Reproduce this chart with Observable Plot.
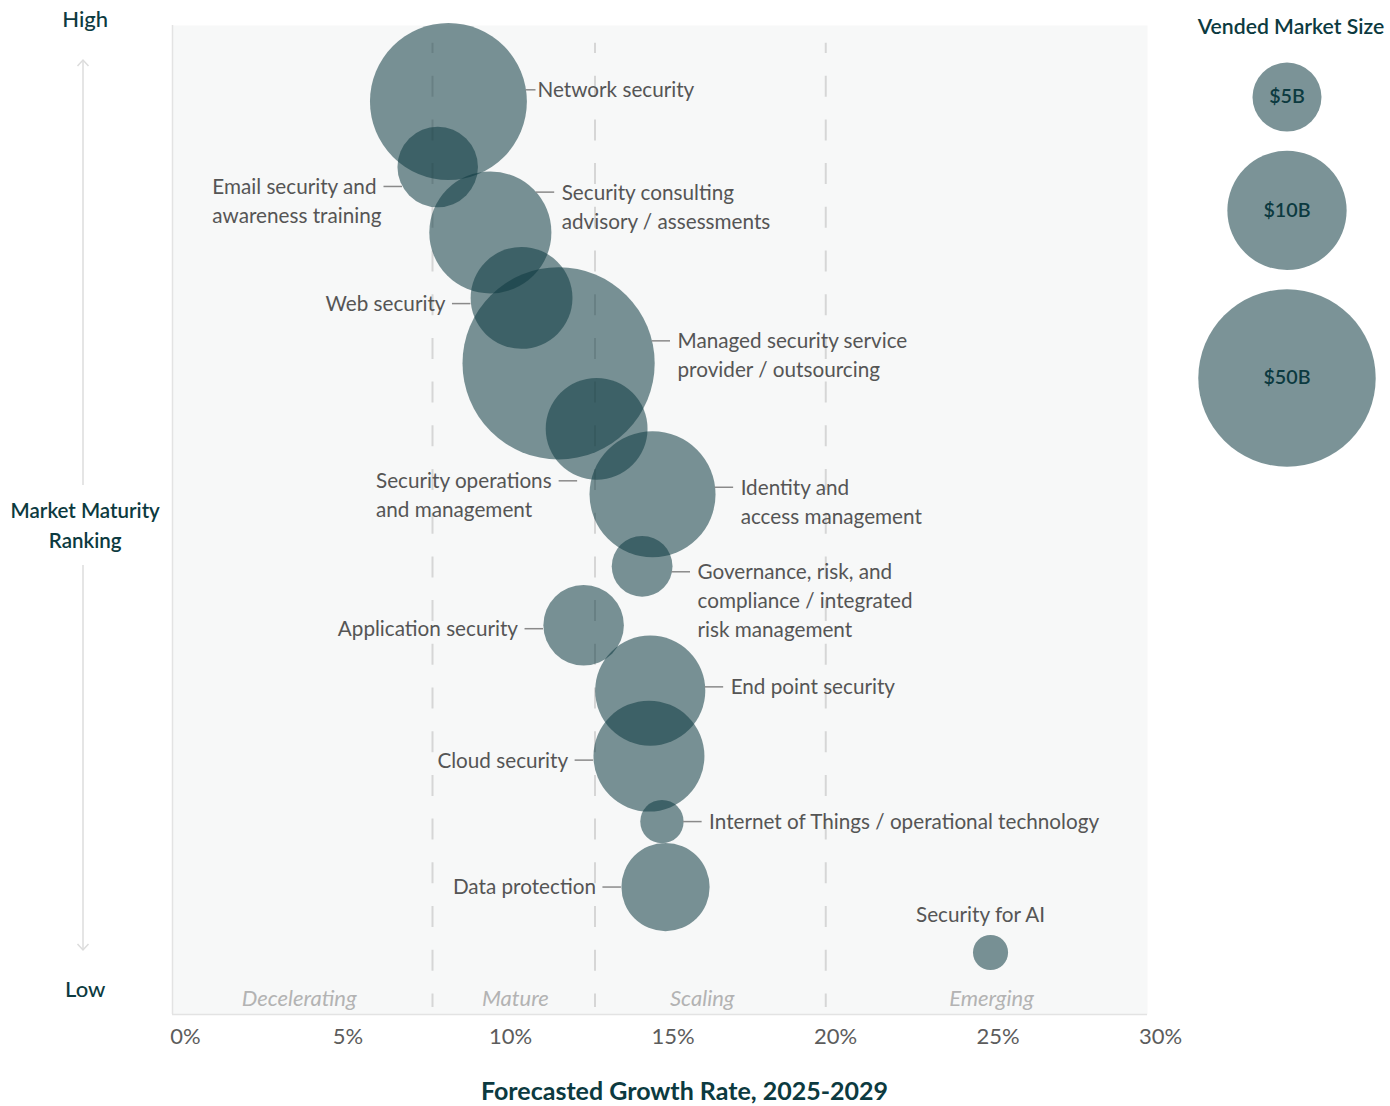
<!DOCTYPE html>
<html>
<head>
<meta charset="utf-8">
<script src="https://cdn.jsdelivr.net/npm/d3@7"></script>
<script src="https://cdn.jsdelivr.net/npm/@observablehq/plot@0.6"></script>
<style>
  html, body { margin: 0; padding: 0; background: #fff; }
  #chart { position: relative; width: 1390px; height: 1106px; }
  #legend { position: absolute; left: 1183px; top: 0; }
</style>
</head>
<body>
<div id="chart"><div id="main"></div><div id="legend"></div></div>
<script>
// ---------------- data ----------------
const segments = [
  "Network security",
  "Email security and awareness training",
  "Security consulting advisory / assessments",
  "Web security",
  "Managed security service provider / outsourcing",
  "Security operations and management",
  "Identity and access management",
  "Governance, risk, and compliance / integrated risk management",
  "Application security",
  "End point security",
  "Cloud security",
  "Internet of Things / operational technology",
  "Data protection",
  "Security for AI"
];
const labelText = [
  "Network security",
  "Email security and\nawareness training",
  "Security consulting\nadvisory / assessments",
  "Web security",
  "Managed security service\nprovider / outsourcing",
  "Security operations\nand management",
  "Identity and\naccess management",
  "Governance, risk, and\ncompliance / integrated\nrisk management",
  "Application security",
  "End point security",
  "Cloud security",
  "Internet of Things / operational technology",
  "Data protection",
  "Security for AI"
];
// forecasted growth rate 2025-2029 (%)
const growth = [8.49, 8.16, 9.78, 10.74, 11.88, 13.05, 14.77, 14.45, 12.65, 14.70, 14.66, 15.06, 15.17, 25.17];
// market maturity ranking (1 = highest)
const maturity = [1, 2, 3, 4, 5, 6, 7, 8.1, 9, 10, 11, 12, 13, 14];
// vended market size ($B)
const marketSize = [38, 10, 23, 16, 57, 16, 24.5, 5.7, 10, 18.7, 19, 2.9, 12, 1.9];

const phaseNames = ["Decelerating", "Mature", "Scaling", "Emerging"];
const phaseLabelX = [3.9, 10.55, 16.3, 25.2];
const phaseBounds = [8, 13, 20.1];
const xTicks = [0, 5, 10, 15, 20, 25, 30];

const legendValues = [5, 10, 50];
const legendLabels = ["$5B", "$10B", "$50B"];

// annotation layout (side of label, vertical offset of the leader line in px)
const labelSide = ["right", "left", "right", "left", "right", "left", "right", "right", "left", "right", "left", "right", "left", "top"];
const labelDy = [-11.7, 19.5, -40.3, 5.7, -22.5, 52, -7, 5.5, 3.5, -3.8, 4, 0, 0, -38];
const labelTweaks = {
  "Network security": {len: 10, gap: 1.5},
  "Security operations and management": {edge: 19},
  "Security for AI": {dx: -10}
};

// ---------------- layout / style ----------------
const FONT = "Lato, 'Open Sans', sans-serif";
const TEAL = "#0c3a40";
const BUBBLE = "#0e3b41";
const BUBBLE_OPACITY = 0.55;
const W = 1390, H = 1106, mL = 172, mR = 243, mT = 25, mB = 92;
const xDomain = [0, 30];
const yDomain = [14.947, -0.161];
const rOpts = {type: "sqrt", domain: [0, 50], range: [0, 90]};
const LFS = 20.7, LH = 29;

const xS = Plot.scale({x: {domain: xDomain, range: [mL, W - mR]}});
const rS = Plot.scale({r: rOpts});

const ctx = document.createElement("canvas").getContext("2d");
ctx.font = `${LFS}px Lato`;
const measure = (s) => ctx.measureText(s).width;

const rows = segments.map((s, i) => ({
  segment: s, label: labelText[i], growth: growth[i], maturity: maturity[i], size: marketSize[i]
}));

const labelMarks = [];
rows.forEach((d, i) => {
  const side = labelSide[i], dy = labelDy[i];
  const tw = labelTweaks[d.segment] || {};
  const r = rS.apply(d.size);
  const textDy = dy + 0.36 * LFS - 0.71 * LH;
  const common = {
    x: "growth", y: "maturity", text: "label",
    lineAnchor: "top", lineHeight: LH / LFS,
    fontSize: LFS, fill: "#555555", fontFamily: FONT
  };
  if (side === "top") {
    labelMarks.push(Plot.text([d], {...common, textAnchor: "middle", dx: tw.dx ?? 0, dy: textDy}));
    return;
  }
  const edge = tw.edge ?? Math.sqrt(Math.max(r * r - dy * dy, 0));
  const len = tw.len ?? 18.5, gap = tw.gap ?? 7;
  const sgn = side === "right" ? 1 : -1;
  const xa = sgn * edge, xb = sgn * (edge + len);
  labelMarks.push(Plot.ruleY([d], {
    y: "maturity",
    x1: (v) => xS.invert(xS.apply(v.growth) + xa),
    x2: (v) => xS.invert(xS.apply(v.growth) + xb),
    dy, stroke: "#8a8a8a", strokeWidth: 1.5
  }));
  const firstLine = d.label.split("\n")[0];
  const tdx = side === "right" ? xb + gap : xb - gap - measure(firstLine);
  labelMarks.push(Plot.text([d], {...common, textAnchor: "start", dx: tdx, dy: textDy}));
});

function maturityArrow(index, scales, values, dims) {
  const x = dims.marginLeft - 89;
  const mid = (dims.marginTop + dims.height - dims.marginBottom) / 2;
  const top = dims.marginTop + 35, bottom = dims.height - dims.marginBottom - 64;
  const g = d3.create("svg:g").attr("fill", "none").attr("stroke", "#dcdcdc").attr("stroke-width", 1.5);
  g.append("line").attr("x1", x).attr("x2", x).attr("y1", top).attr("y2", mid - 34.5);
  g.append("line").attr("x1", x).attr("x2", x).attr("y1", mid + 45.5).attr("y2", bottom);
  g.append("polyline").attr("points", `${x - 5.5},${top + 6} ${x},${top} ${x + 5.5},${top + 6}`);
  g.append("polyline").attr("points", `${x - 5.5},${bottom - 6} ${x},${bottom} ${x + 5.5},${bottom - 6}`);
  return g.node();
}

const main = Plot.plot({
  width: W, height: H,
  marginLeft: mL, marginRight: mR, marginTop: mT, marginBottom: mB,
  style: {fontFamily: FONT, fontSize: "21px", background: "transparent", overflow: "visible"},
  x: {domain: xDomain, axis: null},
  y: {domain: yDomain, axis: null},
  r: rOpts,
  marks: [
    Plot.frame({fill: "#f7f8f8", stroke: "none"}),
    Plot.ruleX([xDomain[0]], {stroke: "#e3e3e3", strokeWidth: 1.5}),
    Plot.ruleY([yDomain[0]], {stroke: "#e3e3e3", strokeWidth: 1.5}),
    Plot.ruleX(phaseBounds, {
      stroke: "#d6d6d6", strokeWidth: 2, strokeDasharray: "21,22.7", strokeDashoffset: 10.7,
      insetTop: 17.7, insetBottom: 7
    }),
    Plot.text(phaseNames, {
      x: phaseLabelX, frameAnchor: "bottom", lineAnchor: "bottom", dy: -9,
      fontStyle: "italic", fontSize: 22, fill: "#b3b3b3", fontFamily: FONT
    }),
    Plot.axisX(xTicks, {
      tickSize: 0, tickPadding: 13.4, tickFormat: (d) => d + "%", dx: 13,
      fontSize: 22, color: "#5c5c5c", label: null, fontFamily: FONT
    }),
    Plot.text(["Forecasted Growth Rate, 2025-2029"], {
      frameAnchor: "bottom", lineAnchor: "bottom", dx: 24.5, dy: 85,
      fontWeight: 700, fontSize: 25, fill: TEAL, fontFamily: FONT
    }),
    Plot.text(["High"], {
      frameAnchor: "top-left", lineAnchor: "bottom", textAnchor: "middle", dx: -87.3, dy: 1,
      fontWeight: 500, fontSize: 22, fill: TEAL, fontFamily: FONT
    }),
    Plot.text(["Low"], {
      frameAnchor: "bottom-left", lineAnchor: "bottom", textAnchor: "middle", dx: -87.3, dy: -18,
      fontWeight: 500, fontSize: 22, fill: TEAL, fontFamily: FONT
    }),
    Plot.text(["Market Maturity\nRanking"], {
      frameAnchor: "left", lineAnchor: "bottom", textAnchor: "middle", dx: -87.3, dy: 27.5,
      lineHeight: 30 / 20.5, fontWeight: 600, fontSize: 20.5, fill: TEAL, fontFamily: FONT
    }),
    maturityArrow,
    Plot.dot(rows, {
      x: "growth", y: "maturity", r: "size",
      fill: BUBBLE, fillOpacity: BUBBLE_OPACITY, stroke: "none"
    }),
    ...labelMarks
  ]
});
document.getElementById("main").appendChild(main);

// ---------------- legend ----------------
const legendR = {type: "linear", domain: legendValues, range: [35, 60.5, 90]};
const lrS = Plot.scale({r: legendR});
const LEG_TOP = 63, LEG_GAP = 19.5;
let acc = LEG_TOP;
const legendRows = legendValues.map((v, i) => {
  const rr = lrS.apply(v);
  const cy = acc + rr;
  acc += 2 * rr + LEG_GAP;
  return {value: v, label: legendLabels[i], cy};
});
const legend = Plot.plot({
  width: 210, height: 490, margin: 0,
  style: {fontFamily: FONT, background: "transparent", overflow: "visible"},
  x: {axis: null},
  y: {type: "identity", axis: null},
  r: legendR,
  marks: [
    Plot.dot(legendRows, {y: "cy", r: "value", fill: BUBBLE, fillOpacity: BUBBLE_OPACITY, stroke: "none"}),
    Plot.text(legendRows, {
      y: "cy", text: "label", fontSize: 20, fontWeight: 600, fill: TEAL, fontFamily: FONT
    }),
    Plot.text(["Vended Market Size"], {
      frameAnchor: "top", lineAnchor: "bottom", dx: 4, dy: 33.5,
      fontSize: 21.5, fontWeight: 600, fill: TEAL, fontFamily: FONT
    })
  ]
});
document.getElementById("legend").appendChild(legend);
</script>
</body>
</html>
